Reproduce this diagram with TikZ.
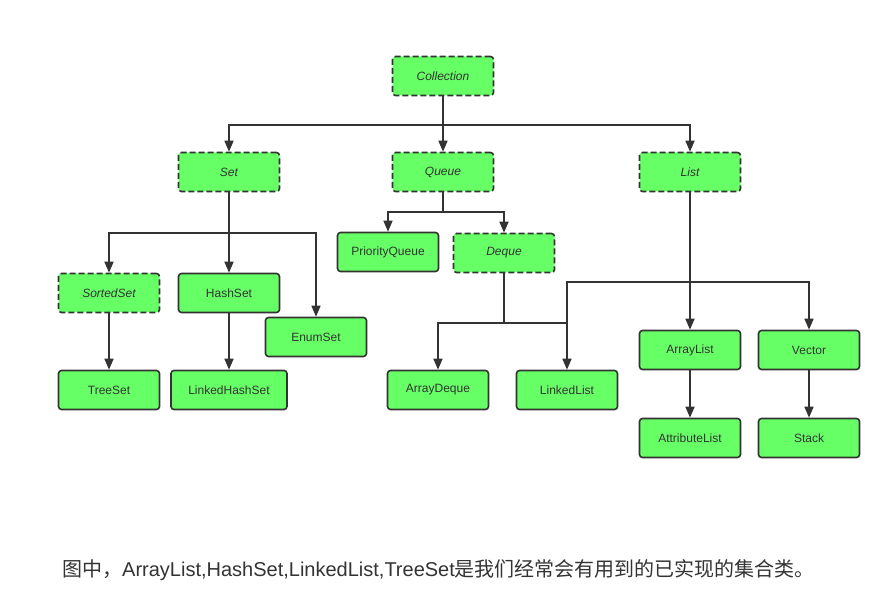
\documentclass[tikz,border=0pt]{standalone}
\usepackage{fontspec}
\setmainfont{Liberation Sans}
\newfontfamily\cjk{Noto Sans CJK SC}
\usetikzlibrary{arrows.meta}
\definecolor{boxgreen}{HTML}{66FF66}
\definecolor{edgegray}{HTML}{333333}
\tikzset{
  box/.style={rectangle, rounded corners=3pt, fill=boxgreen, draw=edgegray, line width=1.6pt,
    minimum width=101pt, minimum height=39pt, text=edgegray, font=\fontsize{12}{14}\selectfont},
  iface/.style={box, dash pattern=on 6pt off 3pt, font=\fontsize{12}{14}\selectfont\itshape},
  cls/.style={box},
  link/.style={draw=edgegray, line width=1.6pt},
  arr/.style={link, -{Triangle[length=11pt, width=9pt]}}
}
\begin{document}
\begin{tikzpicture}[x=1pt, y=-1pt]
\useasboundingbox (0,0) rectangle (887,596);
% interfaces
\node[iface] (col) at (443,76) {Collection};
\node[iface] (set) at (229,172) {Set};
\node[iface] (queue) at (443,172) {Queue};
\node[iface] (list) at (690,172) {List};
\node[iface] (sortedset) at (109,293) {SortedSet};
\node[iface] (deque) at (504,253) {Deque};
% classes
\node[cls] (hashset) at (229,293) {HashSet};
\node[cls] (enumset) at (316,337) {EnumSet};
\node[cls] (treeset) at (109,390) {TreeSet};
\node[cls, minimum width=116pt] (lhashset) at (229,390) {LinkedHashSet};
\node[cls] (prioq) at (388,252) {PriorityQueue};
\node[cls] (adeque) at (438,390) {ArrayDeque};
\node[cls] (llist) at (567,390) {LinkedList};
\node[cls] (alist) at (690,350) {ArrayList};
\node[cls] (vector) at (809,350) {Vector};
\node[cls] (attrlist) at (690,438) {AttributeList};
\node[cls] (stack) at (809,438) {Stack};
% junctions
\coordinate (jc) at (443,125);
\coordinate (js) at (229,233);
\coordinate (jq) at (443,212);
\coordinate (jd) at (504,323);
\coordinate (jl) at (690,282);
% Collection
\draw[link] (col.south) -- (jc);
\draw[arr] (jc) -| (set.north);
\draw[arr] (jc) -- (queue.north);
\draw[arr] (jc) -| (list.north);
% Set
\draw[link] (set.south) -- (js);
\draw[arr] (js) -| (sortedset.north);
\draw[arr] (js) -- (hashset.north);
\draw[arr] (js) -| (enumset.north);
\draw[arr] (sortedset) -- (treeset);
\draw[arr] (hashset) -- (lhashset);
% Queue
\draw[link] (queue.south) -- (jq);
\draw[arr] (jq) -| (prioq.north);
\draw[arr] (jq) -| (deque.north);
\draw[link] (deque.south) -- (jd);
\draw[arr] (jd) -| (adeque.north);
\draw[link] (jd) -- (jd -| llist.north);
% List
\draw[arr] (list) -- (alist);
\draw[arr] (jl) -| (vector.north);
\draw[arr] (jl) -| (llist.north);
\draw[arr] (alist) -- (attrlist);
\draw[arr] (vector) -- (stack);
% caption
\node[anchor=west, inner sep=0pt, text=edgegray, font=\fontsize{20}{22}\selectfont] (cap) at (62,570)
  {{\cjk 图中，}ArrayList,HashSet,LinkedList,TreeSet{\cjk 是我们经常会有用到的已实现的集合类。}};
\end{tikzpicture}
\end{document}
